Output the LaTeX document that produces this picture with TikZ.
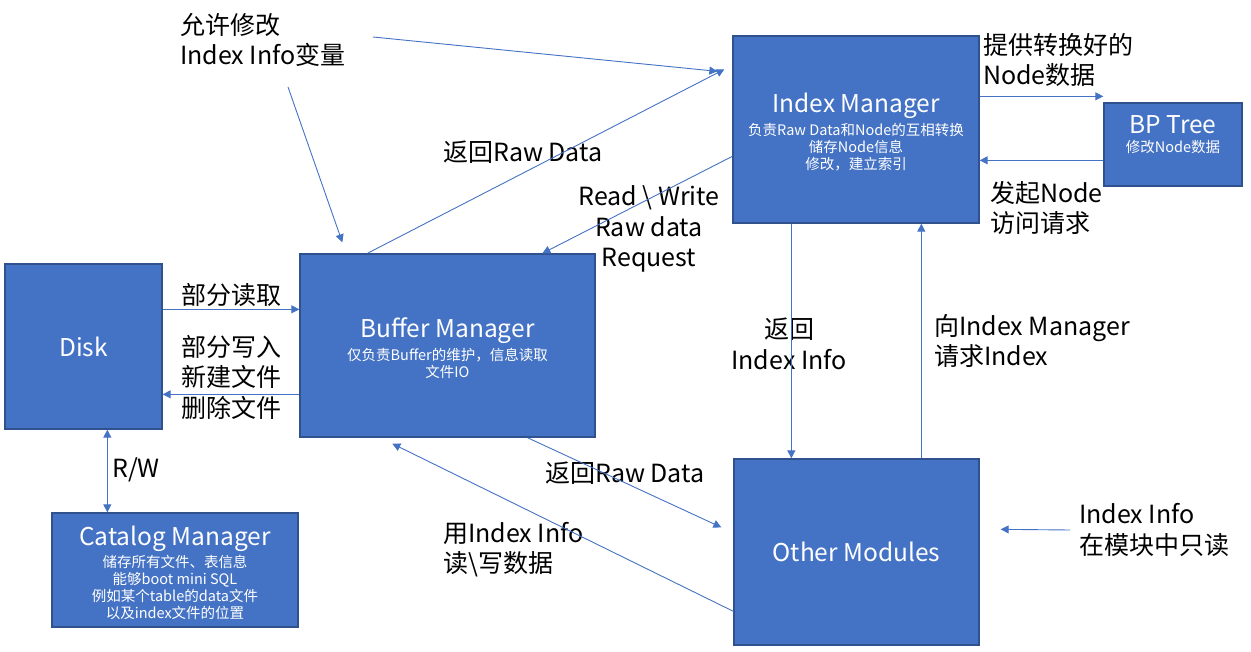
\documentclass[tikz,border=0pt]{standalone}
\usepackage{fontspec}
\newfontfamily\cjk{Noto Sans CJK SC}
\usetikzlibrary{arrows.meta,calc}
\definecolor{boxfill}{HTML}{4472C4}
\definecolor{boxline}{HTML}{2F528F}
\definecolor{arr}{HTML}{4472C4}
\tikzset{
  box/.style={draw=boxline, line width=1.3pt, fill=boxfill, text=white, align=center, inner sep=0pt, font=\cjk\fontsize{14.5}{17}\selectfont},
  boxtxt/.style={text=white, align=center, inner sep=0pt, font=\cjk\fontsize{14.5}{17}\selectfont},
  lbl/.style={text=black, inner sep=0pt, font=\cjk\fontsize{25}{30.5}\selectfont},
  conn/.style={draw=arr, line width=0.9pt, -{Triangle[width=8pt,length=8pt]}},
  conn2/.style={draw=arr, line width=0.9pt, {Triangle[width=8pt,length=8pt]}-{Triangle[width=8pt,length=8pt]}},
}
\newcommand{\ttl}[1]{{\fontsize{24.5}{27}\selectfont #1}}
\begin{document}
\begin{tikzpicture}[x=1pt,y=-1pt]
\useasboundingbox (0,0) rectangle (1251,652);
% boxes
\node[box, minimum width=157pt, minimum height=165pt] (disk) at (83.5,346.5) {\ttl{Disk}};
\node[box, minimum width=295pt, minimum height=183pt] (buf) at (447.5,345.5) {};
\node[boxtxt] (buft) at (447.5,348) {\ttl{Buffer Manager}\\[3pt] 仅负责Buffer的维护，信息读取\\ 文件IO};
\node[box, minimum width=246pt, minimum height=187pt] (idx) at (856,129.5) {};
\node[boxtxt] (idxt) at (856,132) {\ttl{Index Manager}\\[3pt] 负责Raw Data和Node的互相转换\\ 储存Node信息\\ 修改，建立索引};
\node[box, minimum width=138pt, minimum height=83pt] (bp) at (1173,144.5) {};
\node[boxtxt] (bpt) at (1173,135) {\ttl{BP Tree}\\[2pt] 修改Node数据};
\node[box, minimum width=245pt, minimum height=186pt] (oth) at (856.5,552) {\ttl{Other Modules}};
\node[box, minimum width=246pt, minimum height=114pt] (cat) at (175,570) {};
\node[boxtxt] (catt) at (175,573) {\ttl{Catalog Manager}\\[2pt] 储存所有文件、表信息\\ 能够boot mini SQL\\ 例如某个table的data文件\\ 以及index文件的位置};

% labels
\node[lbl, anchor=west, align=left] (l1) at (180,40) {允许修改\\ Index Info变量};
\node[lbl, anchor=west] (l2) at (443,152) {返回Raw Data};
\node[lbl, align=center] (l3) at (649,229) {Read \textbackslash{} Write\\ Raw data\\ Request};
\node[lbl, anchor=west, align=left] (l4) at (983,60) {提供转换好的\\ Node数据};
\node[lbl, anchor=west, align=left] (l5) at (990,208) {发起Node\\ 访问请求};
\node[lbl, align=center] (l6) at (789,344) {返回\\ Index Info};
\node[lbl, anchor=west, align=left] (l7) at (934,341) {向Index Manager\\ 请求Index};
\node[lbl, anchor=west] (l8) at (545,473) {返回Raw Data};
\node[lbl, anchor=west, align=left] (l9) at (443,549.5) {用Index Info\\ 读\textbackslash{}写数据};
\node[lbl, anchor=west] (l10) at (181,295) {部分读取};
\node[lbl, anchor=west, align=left] (l11) at (181,377) {部分写入\\ 新建文件\\ 删除文件};
\node[lbl, anchor=west] (l12) at (112,470) {R/W};
\node[lbl, anchor=west, align=left] (l13) at (1079,530) {Index Info\\ 在模块中只读};

% free ends
\coordinate (t1) at (373,37);
\coordinate (t2) at (288,87);
\coordinate (t3) at (1070,530);

% connectors
\draw[conn] (t1) -- ($(idx.north west)+(-15,36)$);
\draw[conn] (t2) -- ($(buf.north west)+(43,-11)$);
\draw[conn] ($(buf.north west)+(68,0)$) -- ($(idx.north west)+(-8,34)$);
\draw[conn] ($(idx.north west)+(0,121)$) -- ($(buf.north west)+(243,0)$);
\draw[conn] ($(idx.north east)+(0,61)$) coordinate (a4) -- (a4 -| bp.west);
\draw[conn] ($(bp.north west)+(0,58)$) coordinate (a5) -- (a5 -| idx.east);
\draw[conn] ($(idx.south west)+(59,0)$) coordinate (a6) -- (a6 |- oth.north);
\draw[conn] ($(oth.north west)+(188,0)$) coordinate (a7) -- (a7 |- idx.south);
\draw[conn] ($(buf.south west)+(228,0)$) -- ($(oth.north west)+(-12,69)$);
\draw[conn] ($(oth.north west)+(0,153)$) -- ($(buf.south west)+(93,6)$);
\draw[conn] ($(disk.north east)+(0,46)$) coordinate (a10) -- (a10 -| buf.west);
\draw[conn] ($(buf.north west)+(0,141)$) coordinate (a11) -- (a11 -| disk.east);
\draw[conn2] ($(disk.south west)+(103,0)$) coordinate (a12) -- (a12 |- cat.north);
\draw[conn] (t3) -- ($(oth.north east)+(21,71)$);
\end{tikzpicture}
\end{document}
